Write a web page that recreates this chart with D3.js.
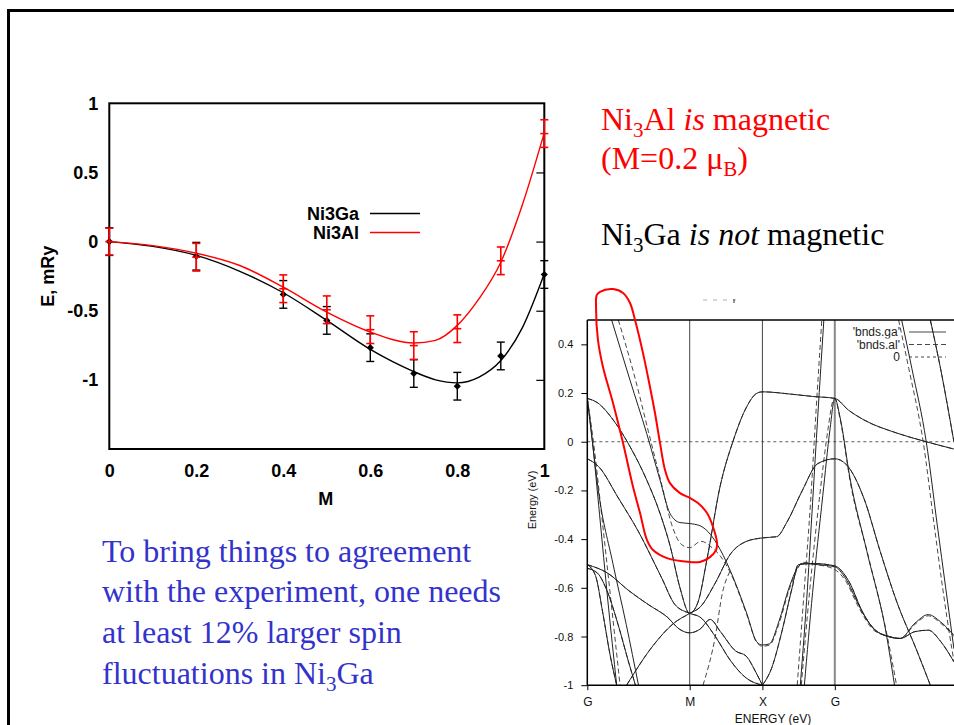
<!DOCTYPE html>
<html>
<head>
<meta charset="utf-8">
<script src="https://cdn.jsdelivr.net/npm/d3@7"></script>
<style>
body { margin: 0; background: #fff; }
svg { display: block; }
text { white-space: pre; }
</style>
</head>
<body>
<svg id="slide" width="954" height="725"></svg>
<script>
// ---- left chart: total energy vs moment ----
var mValues = [0, 0.2, 0.4, 0.5, 0.6, 0.7, 0.8, 0.9, 1.0];
var gaEnergy = [0, -0.106, -0.382, -0.57, -0.767, -0.954, -1.046, -0.827, -0.238];
var gaError = [0.1, 0.1, 0.1, 0.1, 0.1, 0.1, 0.1, 0.1, 0.1];
var alEnergy = [0, -0.113, -0.341, -0.493, -0.637, -0.752, -0.63, -0.139, 0.781];
var alError = [0.097, 0.1, 0.1, 0.1, 0.1, 0.1, 0.1, 0.1, 0.1];

// fitted curves (M, E)
var gaFit = [[0,0],[0.1,-0.035],[0.2,-0.1],[0.3,-0.215],[0.4,-0.37],[0.5,-0.57],[0.6,-0.78],
  [0.7,-0.94],[0.75,-1.0],[0.8,-1.022],[0.85,-0.98],[0.9,-0.86],[0.95,-0.62],[1.0,-0.233]];
var alFit = [[0,0],[0.1,-0.029],[0.2,-0.084],[0.3,-0.173],[0.4,-0.33],[0.5,-0.51],[0.6,-0.654],
  [0.7,-0.733],[0.75,-0.714],[0.8,-0.606],[0.85,-0.413],[0.9,-0.149],[0.95,0.27],[1.0,0.788]];

var xTicks = [0, 0.2, 0.4, 0.6, 0.8, 1];
var yTicks = [1, 0.5, 0, -0.5, -1];
var legendNames = ["Ni3Ga", "Ni3Al"];
var legendColors = ["#000", "#ff0000"];

// ---- right chart: band structure, k path G-M-X-G ----
var kPoints = [0, 1, 1.71, 2.417];
var kLabels = ["G", "M", "X", "G"];
var bandTicks = [0.4, 0.2, 0, -0.2, -0.4, -0.6, -0.8, -1];

// Ni3Ga bands (k, E in eV), drawn solid
var ga1 = [[0.238,0.5],[0.417,0.253],[0.58,0.034],[0.71,-0.157],[0.807,-0.294],[0.905,-0.332],[1.0,-0.336],
  [1.1,-0.345],[1.18,-0.37],[1.264,-0.418],[1.394,-0.527],[1.557,-0.705],[1.655,-0.822],[1.71,-0.835],
  [1.78,-0.83],[1.87,-0.74],[1.97,-0.6],[2.05,-0.52],[2.1,-0.5],[2.25,-0.505],[2.417,-0.514],[2.52,-0.56],
  [2.65,-0.67],[2.8,-0.77],[2.95,-0.8],[3.055,-0.808],[3.2,-0.745],[3.33,-0.71],[3.45,-0.74],[3.58,-0.795]];
var ga2 = [[0,0.178],[0.1,0.16],[0.254,0.089],[0.417,-0.02],[0.58,-0.157],[0.71,-0.294],[0.81,-0.43],
  [0.905,-0.6],[1.0,-0.705],[1.08,-0.66],[1.17,-0.48],[1.296,-0.185],[1.427,0.007],[1.557,0.144],
  [1.655,0.199],[1.71,0.205],[2.0,0.195],[2.2,0.186],[2.417,0.178],[2.55,0.13],[2.7,0.09],[3.02,0.036],
  [3.31,0.0],[3.58,-0.03]];
var ga3 = [[0,-0.07],[0.108,-0.101],[0.303,-0.231],[0.498,-0.368],[0.727,-0.56],[0.856,-0.669],[1.0,-0.705],
  [1.1,-0.72],[1.25,-0.8],[1.4,-0.9],[1.55,-0.97],[1.71,-1.0]];
var ga4 = [[0,-0.505],[0.2,-0.54],[0.4,-0.61],[0.6,-0.67],[0.78,-0.72],[0.9,-0.77],[1.0,-0.785],[1.1,-0.77],
  [1.2,-0.73],[1.3,-0.78],[1.45,-0.86],[1.55,-0.88],[1.65,-0.95],[1.71,-1.0]];
var ga5 = [[0.384,-1.0],[0.645,-0.836],[0.84,-0.747],[1.0,-0.705],[1.1,-0.68],[1.25,-0.58],[1.4,-0.46],
  [1.55,-0.41],[1.71,-0.395],[1.85,-0.39],[1.95,-0.33],[2.1,-0.2],[2.25,-0.09],[2.417,-0.07],[2.53,-0.094],
  [2.7,-0.231],[2.86,-0.45],[3.02,-0.655],[3.22,-0.86],[3.35,-1.0]];
var ga6 = [[1.71,-1.0],[1.8,-0.93],[1.9,-0.78],[2.0,-0.6],[2.06,-0.505],[2.2,-0.5],[2.417,-0.51],[2.55,-0.57],
  [2.7,-0.71],[2.85,-0.785],[3.055,-0.808],[3.2,-0.78],[3.33,-0.774],[3.45,-0.82],[3.58,-0.904]];
var ga7 = [[2.08,-1.0],[2.15,-0.6],[2.2,-0.25],[2.25,0.1],[2.31,0.5]];
var ga8 = [[2.12,-1.0],[2.2,-0.62],[2.3,-0.22],[2.37,0.05],[2.417,0.178],[2.47,0.097],[2.565,-0.149],
  [2.73,-0.45],[2.92,-0.79],[3.0,-1.0]];
var ga9 = [[3.07,0.5],[3.17,0.3],[3.31,0.0],[3.42,-0.35],[3.5,-0.6],[3.58,-0.85]];
var ga10 = [[3.35,0.5],[3.45,0.3],[3.58,0.0]];
var ga11 = [[0,0.178],[0.05,0.0],[0.12,-0.3],[0.2,-0.65],[0.287,-1.0]];
var ga12 = [[0,0.178],[0.05,0.0],[0.108,-0.2],[0.25,-0.5],[0.38,-0.75],[0.5,-1.0]];
var ga13 = [[0,-0.505],[0.08,-0.55],[0.15,-0.7],[0.22,-0.87],[0.287,-1.0]];
var ga14 = [[0,-0.52],[0.1,-0.54],[0.2,-0.62],[0.3,-0.75],[0.4,-0.9],[0.47,-1.0]];

// Ni3Al bands that differ from Ni3Ga, drawn dashed
var al1 = [[0.303,0.5],[0.466,0.262],[0.596,0.043],[0.727,-0.176],[0.824,-0.34],[0.922,-0.423],[1.0,-0.435],
  [1.11,-0.409],[1.224,-0.437],[1.3,-0.47],[1.394,-0.535],[1.557,-0.71],[1.655,-0.825],[1.71,-0.84],
  [1.78,-0.835],[1.87,-0.75],[1.97,-0.61],[2.05,-0.525],[2.1,-0.495],[2.25,-0.505],[2.417,-0.525],
  [2.52,-0.57],[2.65,-0.68],[2.8,-0.775],[2.95,-0.8],[3.055,-0.808],[3.2,-0.75],[3.33,-0.715],[3.45,-0.745],[3.58,-0.8]];
var al7 = [[2.05,-1.0],[2.12,-0.6],[2.18,-0.25],[2.23,0.1],[2.29,0.5]];
var al8 = [[2.09,-1.0],[2.17,-0.62],[2.27,-0.22],[2.35,0.05],[2.4,0.17],[2.417,0.178],[2.47,0.09],
  [2.57,-0.17],[2.75,-0.48],[2.93,-0.8],[3.02,-1.0]];
var al9 = [[3.04,0.5],[3.14,0.3],[3.28,0.0],[3.39,-0.35],[3.47,-0.6],[3.56,-0.85],[3.58,-0.9]];
var al10 = [[1.13,-1.0],[1.25,-0.8],[1.32,-0.62],[1.39,-0.535]];
var al11 = [[0,0.178],[0.06,0.0],[0.14,-0.3],[0.23,-0.65],[0.32,-1.0]];

var gaBands = [ga1, ga2, ga3, ga4, ga5, ga6, ga7, ga8, ga9, ga10, ga11, ga12, ga13, ga14];
var alBands = [al1, ga2, ga3, ga4, ga5, ga6, al7, al8, al9, ga10, al11, ga13, ga14, al10];

// red highlight loop around the flat bands near M (k, E)
var loopPoints = [[0.092,0.602],[0.124,0.616],[0.251,0.627],[0.349,0.611],[0.417,0.57],[0.466,0.5],
  [0.544,0.364],[0.612,0.225],[0.661,0.118],[0.71,-0.005],[0.759,-0.116],[0.807,-0.17],[0.905,-0.211],
  [1.003,-0.231],[1.081,-0.252],[1.169,-0.293],[1.228,-0.35],[1.267,-0.416],[1.257,-0.445],[1.198,-0.474],
  [1.101,-0.494],[1.003,-0.494],[0.778,-0.478],[0.642,-0.445],[0.583,-0.404],[0.515,-0.293],[0.447,-0.186],
  [0.349,-0.005],[0.251,0.159],[0.153,0.307],[0.104,0.418],[0.085,0.553]];

var bandLegend = ["'bnds.ga'", "'bnds.al'", "0"];
var bandLegendDash = [null, "5,3", "3,3"];

var svg = d3.select("#slide");

// slide frame
svg.append("path")
  .attr("d", "M8.5,725 V10.5 H954")
  .attr("fill", "none")
  .attr("stroke", "#000")
  .attr("stroke-width", 3);

// ======== left chart ========
var x = d3.scaleLinear().domain([0, 1]).range([109.3, 544.3]);
var y = d3.scaleLinear().domain([-1.5, 1]).range([449, 103.3]);
var fs = "18px";

var left = svg.append("g")
  .style("font-family", "'Liberation Sans', Arial, sans-serif")
  .style("font-weight", "bold");

left.append("g")
  .attr("transform", "translate(" + x(0) + ",0)")
  .call(d3.axisLeft(y).tickValues(yTicks).tickSize(0).tickPadding(11).tickFormat(function(d) { return String(d); }))
  .call(function(g) { g.select(".domain").remove(); })
  .selectAll("text").style("font-size", fs).style("font-family", "inherit").attr("fill", "#000");

left.append("g")
  .attr("transform", "translate(0," + y(-1.5) + ")")
  .call(d3.axisBottom(x).tickValues(xTicks).tickSize(0).tickPadding(15).tickFormat(function(d) { return String(d); }))
  .call(function(g) { g.select(".domain").remove(); })
  .selectAll("text").style("font-size", fs).style("font-family", "inherit").attr("fill", "#000");

// right-side inward ticks
left.append("g")
  .attr("transform", "translate(" + x(1) + ",0)")
  .call(d3.axisRight(y).tickValues([0.5, 0, -0.5, -1]).tickSize(-8).tickFormat(""))
  .call(function(g) { g.select(".domain").remove(); })
  .selectAll("line").attr("stroke-width", 1.2);

left.append("rect")
  .attr("x", x(0)).attr("y", y(1))
  .attr("width", x(1) - x(0)).attr("height", y(-1.5) - y(1))
  .attr("fill", "none").attr("stroke", "#000").attr("stroke-width", 2);

left.append("text")
  .attr("x", (x(0) + x(1)) / 2 - 1).attr("y", 505)
  .attr("text-anchor", "middle").style("font-size", fs)
  .text("M");

left.append("text")
  .attr("transform", "translate(54," + y(-0.25) + ") rotate(-90)")
  .attr("text-anchor", "middle").style("font-size", fs)
  .text("E, mRy");

var fitLine = d3.line()
  .x(function(d) { return x(d[0]); })
  .y(function(d) { return y(d[1]); })
  .curve(d3.curveMonotoneX);

function drawSeries(vals, errs, color, width, marker) {
  var g = left.append("g");
  var pts = mValues.map(function(m, i) { return {m: m, e: vals[i], err: errs[i]}; });
  var bars = g.selectAll("g.bar").data(pts).enter().append("g").attr("class", "bar");
  bars.append("line")
    .attr("x1", function(d) { return x(d.m); }).attr("x2", function(d) { return x(d.m); })
    .attr("y1", function(d) { return y(d.e - d.err); }).attr("y2", function(d) { return y(d.e + d.err); })
    .attr("stroke", color).attr("stroke-width", width);
  [-1, 1].forEach(function(s) {
    bars.append("line")
      .attr("x1", function(d) { return x(d.m) - 4; }).attr("x2", function(d) { return x(d.m) + 4; })
      .attr("y1", function(d) { return y(d.e + s * d.err); }).attr("y2", function(d) { return y(d.e + s * d.err); })
      .attr("stroke", color).attr("stroke-width", width);
  });
  if (marker == "diamond") {
    bars.append("path")
      .attr("d", d3.symbol(d3.symbolSquare, 26))
      .attr("transform", function(d) { return "translate(" + x(d.m) + "," + y(d.e) + ") rotate(45)"; })
      .attr("fill", color);
  } else {
    bars.append("line")
      .attr("x1", function(d) { return x(d.m) - 4; }).attr("x2", function(d) { return x(d.m) + 4; })
      .attr("y1", function(d) { return y(d.e); }).attr("y2", function(d) { return y(d.e); })
      .attr("stroke", color).attr("stroke-width", width);
  }
}

left.append("path").datum(gaFit).attr("d", fitLine)
  .attr("fill", "none").attr("stroke", "#000").attr("stroke-width", 1.4);
drawSeries(gaEnergy, gaError, "#000", 1.4, "diamond");
left.append("path").datum(alFit).attr("d", fitLine)
  .attr("fill", "none").attr("stroke", "#ff0000").attr("stroke-width", 1.4);
drawSeries(alEnergy, alError, "#ff0000", 1.6, "plus");

// legend
var leg = left.append("g");
legendNames.forEach(function(name, i) {
  var ly = 214 + i * 19;
  leg.append("text").attr("x", 359).attr("y", ly).attr("dy", "0.35em")
    .attr("text-anchor", "end").style("font-size", fs).text(name);
  leg.append("line").attr("x1", 370).attr("x2", 420).attr("y1", ly - 0.5).attr("y2", ly - 0.5)
    .attr("stroke", legendColors[i]).attr("stroke-width", 1.4);
});

// ======== band structure ========
var bx = d3.scaleLinear().domain([0, 1]).range([587.3, 689.7]);
var by = d3.scaleLinear().domain([-1, 0.5]).range([685.2, 320]);
var bandRight = 954;

var bands = svg.append("g")
  .style("font-family", "'Liberation Sans', Arial, sans-serif");

svg.append("defs").append("clipPath").attr("id", "bandclip")
  .append("rect").attr("x", bx(0)).attr("y", by(0.5))
  .attr("width", bandRight - bx(0)).attr("height", by(-1) - by(0.5));

// stray dashed fragment above the plot
bands.append("line").attr("x1", 703).attr("x2", 736).attr("y1", 300).attr("y2", 300)
  .attr("stroke", "#999").attr("stroke-dasharray", "4,6").attr("stroke-width", 0.8);
bands.append("line").attr("x1", 734).attr("x2", 734).attr("y1", 299).attr("y2", 303)
  .attr("stroke", "#333").attr("stroke-width", 1);

// symmetry lines
kPoints.slice(1).forEach(function(k, i) {
  bands.append("line")
    .attr("x1", bx(k)).attr("x2", bx(k)).attr("y1", by(0.5)).attr("y2", by(-1))
    .attr("stroke", i == 2 ? "#888" : "#444").attr("stroke-width", i == 2 ? 2 : 1);
});

// zero line
bands.append("line")
  .attr("x1", bx(0)).attr("x2", bandRight).attr("y1", by(0)).attr("y2", by(0))
  .attr("stroke", "#333").attr("stroke-width", 0.8).attr("stroke-dasharray", "3,3");

var bandLine = d3.line()
  .x(function(d) { return bx(d[0]); })
  .y(function(d) { return by(d[1]); })
  .curve(d3.curveMonotoneX);

var bandG = bands.append("g").attr("clip-path", "url(#bandclip)");
bandG.selectAll("path.al").data(alBands).enter().append("path")
  .attr("class", "al").attr("d", bandLine)
  .attr("fill", "none").attr("stroke", "#333").attr("stroke-width", 0.9)
  .attr("stroke-dasharray", "5,3");
bandG.selectAll("path.ga").data(gaBands).enter().append("path")
  .attr("class", "ga").attr("d", bandLine)
  .attr("fill", "none").attr("stroke", "#222").attr("stroke-width", 1);

// frame lines
bands.append("line").attr("x1", bx(0)).attr("x2", bandRight).attr("y1", by(0.5)).attr("y2", by(0.5))
  .attr("stroke", "#000").attr("stroke-width", 1.5);
bands.append("line").attr("x1", bx(0)).attr("x2", bandRight).attr("y1", by(-1)).attr("y2", by(-1))
  .attr("stroke", "#000").attr("stroke-width", 1.5);
bands.append("line").attr("x1", bx(0)).attr("x2", bx(0)).attr("y1", by(0.5)).attr("y2", by(-1))
  .attr("stroke", "#000").attr("stroke-width", 1.5);

// y axis
bands.append("g")
  .attr("transform", "translate(" + bx(0) + ",0)")
  .call(d3.axisLeft(by).tickValues(bandTicks).tickSize(6).tickPadding(8).tickFormat(function(d) { return String(d); }))
  .call(function(g) { g.select(".domain").remove(); })
  .call(function(g) { g.selectAll("text").style("font-size", "11px").style("font-family", "inherit").attr("fill", "#111"); });

// k axis
bands.append("g")
  .attr("transform", "translate(0," + by(-1) + ")")
  .call(d3.axisBottom(bx).tickValues(kPoints).tickSize(5).tickPadding(7).tickFormat(function(d, i) { return kLabels[i]; }))
  .call(function(g) { g.select(".domain").remove(); })
  .call(function(g) { g.selectAll("text").style("font-size", "12px").style("font-family", "inherit").attr("fill", "#111"); });

bands.append("text")
  .attr("transform", "translate(536,500) rotate(-90)")
  .attr("text-anchor", "middle").style("font-size", "11px").attr("fill", "#111")
  .text("Energy (eV)");

bands.append("text")
  .attr("x", 773).attr("y", 723)
  .attr("text-anchor", "middle").style("font-size", "12px").attr("fill", "#111")
  .text("ENERGY (eV)");

// band legend
bandLegend.forEach(function(name, i) {
  var ly = 332 + i * 12.5;
  bands.append("rect").attr("x", 852).attr("y", ly - 6).attr("width", 48).attr("height", 12).attr("fill", "#fff")
    .attr("opacity", i == 2 ? 0 : 1);
  bands.append("text").attr("x", 900).attr("y", ly).attr("dy", "0.35em")
    .attr("text-anchor", "end").style("font-size", "12px").attr("fill", "#222").text(name);
  bands.append("line").attr("x1", 909).attr("x2", 946).attr("y1", ly).attr("y2", ly)
    .attr("stroke", "#333").attr("stroke-width", 0.9)
    .attr("stroke-dasharray", bandLegendDash[i]);
});

// red loop
var loopLine = d3.line()
  .x(function(d) { return bx(d[0]); })
  .y(function(d) { return by(d[1]); })
  .curve(d3.curveCatmullRomClosed);
svg.append("path").datum(loopPoints).attr("d", loopLine)
  .attr("fill", "none").attr("stroke", "#ff0000").attr("stroke-width", 2);

// ======== slide text ========
var serif = "'Liberation Serif', 'Times New Roman', serif";

function richText(tx, ty, parts, color, size) {
  var t = svg.append("text").attr("x", tx).attr("y", ty)
    .style("font-family", serif).style("font-size", size + "px").attr("fill", color);
  var shifted = false;
  parts.forEach(function(p) {
    var s = t.append("tspan").text(p.t);
    if (p.sub) {
      s.attr("dy", size * 0.22).style("font-size", Math.round(size * 0.66) + "px");
      shifted = true;
    } else if (shifted) {
      s.attr("dy", -size * 0.22);
      shifted = false;
    }
    if (p.i) s.style("font-style", "italic");
  });
}

richText(601, 130, [{t: "Ni"}, {t: "3", sub: true}, {t: "Al "}, {t: "is", i: true}, {t: " magnetic"}], "#ff0000", 32);
richText(601, 169, [{t: "(M=0.2 \u03bc"}, {t: "B", sub: true}, {t: ")"}], "#ff0000", 32);
richText(601, 245, [{t: "Ni"}, {t: "3", sub: true}, {t: "Ga "}, {t: "is not", i: true}, {t: " magnetic"}], "#000", 32);

var blue = "#3333cc";
richText(102, 562, [{t: "To bring things to agreement"}], blue, 32);
richText(102, 602, [{t: "with the experiment, one needs"}], blue, 32);
richText(102, 643, [{t: "at least 12% larger spin"}], blue, 32);
richText(102, 684, [{t: "fluctuations in Ni"}, {t: "3", sub: true}, {t: "Ga"}], blue, 32);
</script>
</body>
</html>
